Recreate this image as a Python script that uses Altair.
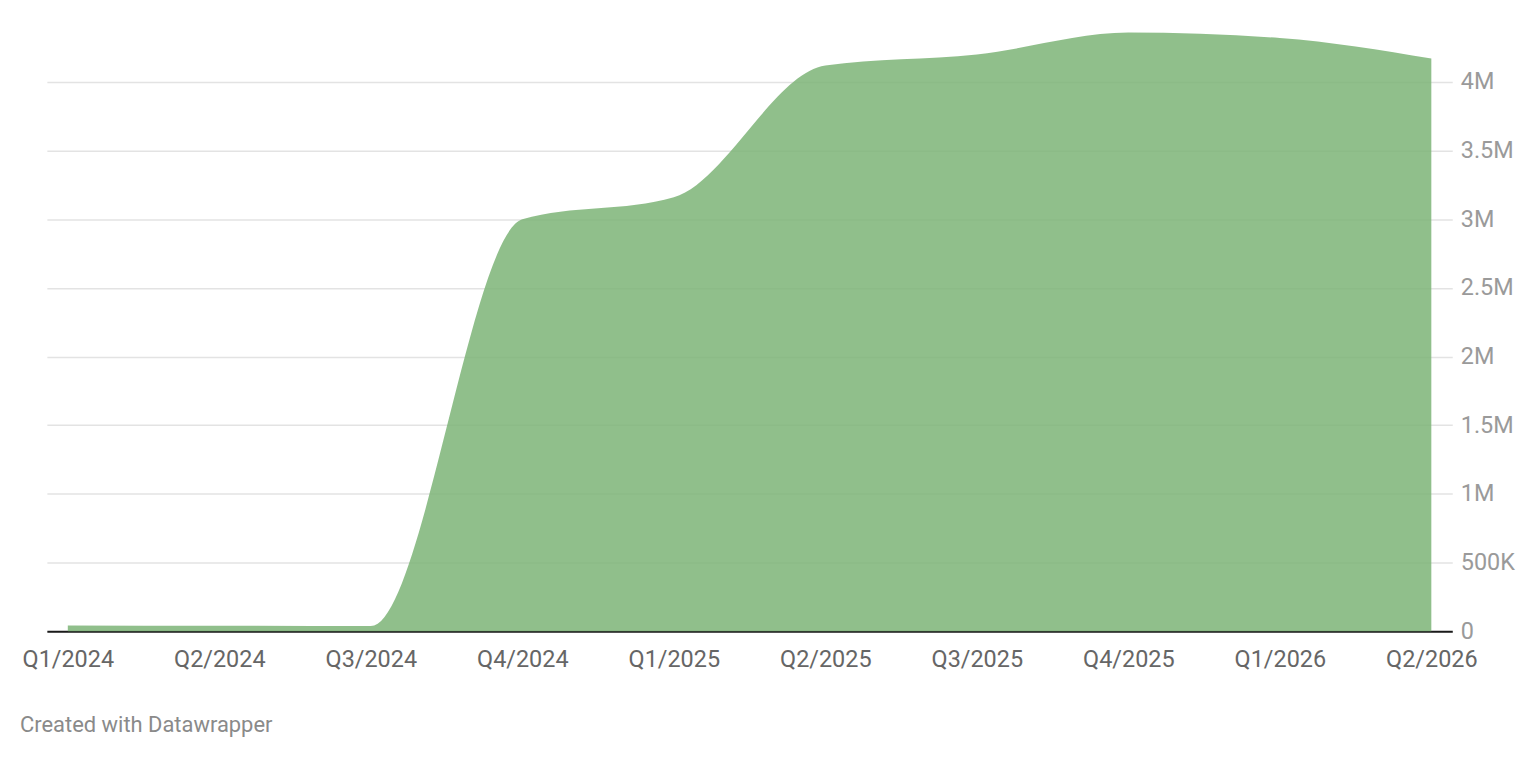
import json
import altair as alt
import pandas as pd

quarters = ["Q1/2024", "Q2/2024", "Q3/2024", "Q4/2024", "Q1/2025",
            "Q2/2025", "Q3/2025", "Q4/2025", "Q1/2026", "Q2/2026"]
values = [42000, 40000, 37000, 3000000, 3160000,
          4120000, 4200000, 4360000, 4320000, 4170000]
y_ticks = [0, 500000, 1000000, 1500000, 2000000, 2500000, 3000000, 3500000, 4000000]

df = pd.DataFrame({"idx": list(range(len(quarters))), "quarter": quarters, "value": values})

W, H = 1410, 612
pad_px = 21
n = len(quarters) - 1
unit = (W - 2 * pad_px) / n
pad_u = pad_px / unit
ymax = 4000000 * H / 551

label_expr = json.dumps(quarters) + "[datum.value]"

def fmt_expr():
    return ("datum.value == 0 ? '0' : (datum.value >= 1000000 ? "
            "format(datum.value/1000000, '~g') + 'M' : format(datum.value/1000, '~g') + 'K')")

chart = alt.Chart(df).mark_area(
    interpolate="monotone", color="#7eb478", opacity=0.86
).encode(
    x=alt.X("idx:Q",
            scale=alt.Scale(domain=[-pad_u, n + pad_u], nice=False, zero=False),
            axis=alt.Axis(values=list(range(len(quarters))), labelExpr=label_expr,
                          title=None, grid=False, ticks=False, domain=True,
                          domainColor="#1a1a1a", domainWidth=2,
                          labelFont="Roboto", labelFontSize=23.5, labelColor="#666666",
                          labelPadding=16, labelFlush=False, labelOverlap=False)),
    y=alt.Y("value:Q",
            scale=alt.Scale(domain=[0, ymax], nice=False),
            axis=alt.Axis(orient="right", values=y_ticks, labelExpr=fmt_expr(),
                          title=None, grid=True, gridColor="#e3e3e3", gridWidth=1.5,
                          ticks=False, domain=False,
                          labelFont="Roboto", labelFontSize=23.5, labelColor="#9a9a9a",
                          labelPadding=8, labelBaseline="middle")),
).properties(
    width=W, height=H,
    padding={"left": 39, "top": 12, "right": 80, "bottom": 110},
    autosize=alt.AutoSizeParams(type="none"),
    title=alt.TitleParams("Created with Datawrapper", orient="bottom", anchor="start",
                          font="Roboto", fontSize=22, fontWeight="normal",
                          color="#8a8a8a", dx=-2, offset=45),
).configure_view(stroke=None)

chart.save("out.html", embed_options={"renderer": "svg", "actions": False})
